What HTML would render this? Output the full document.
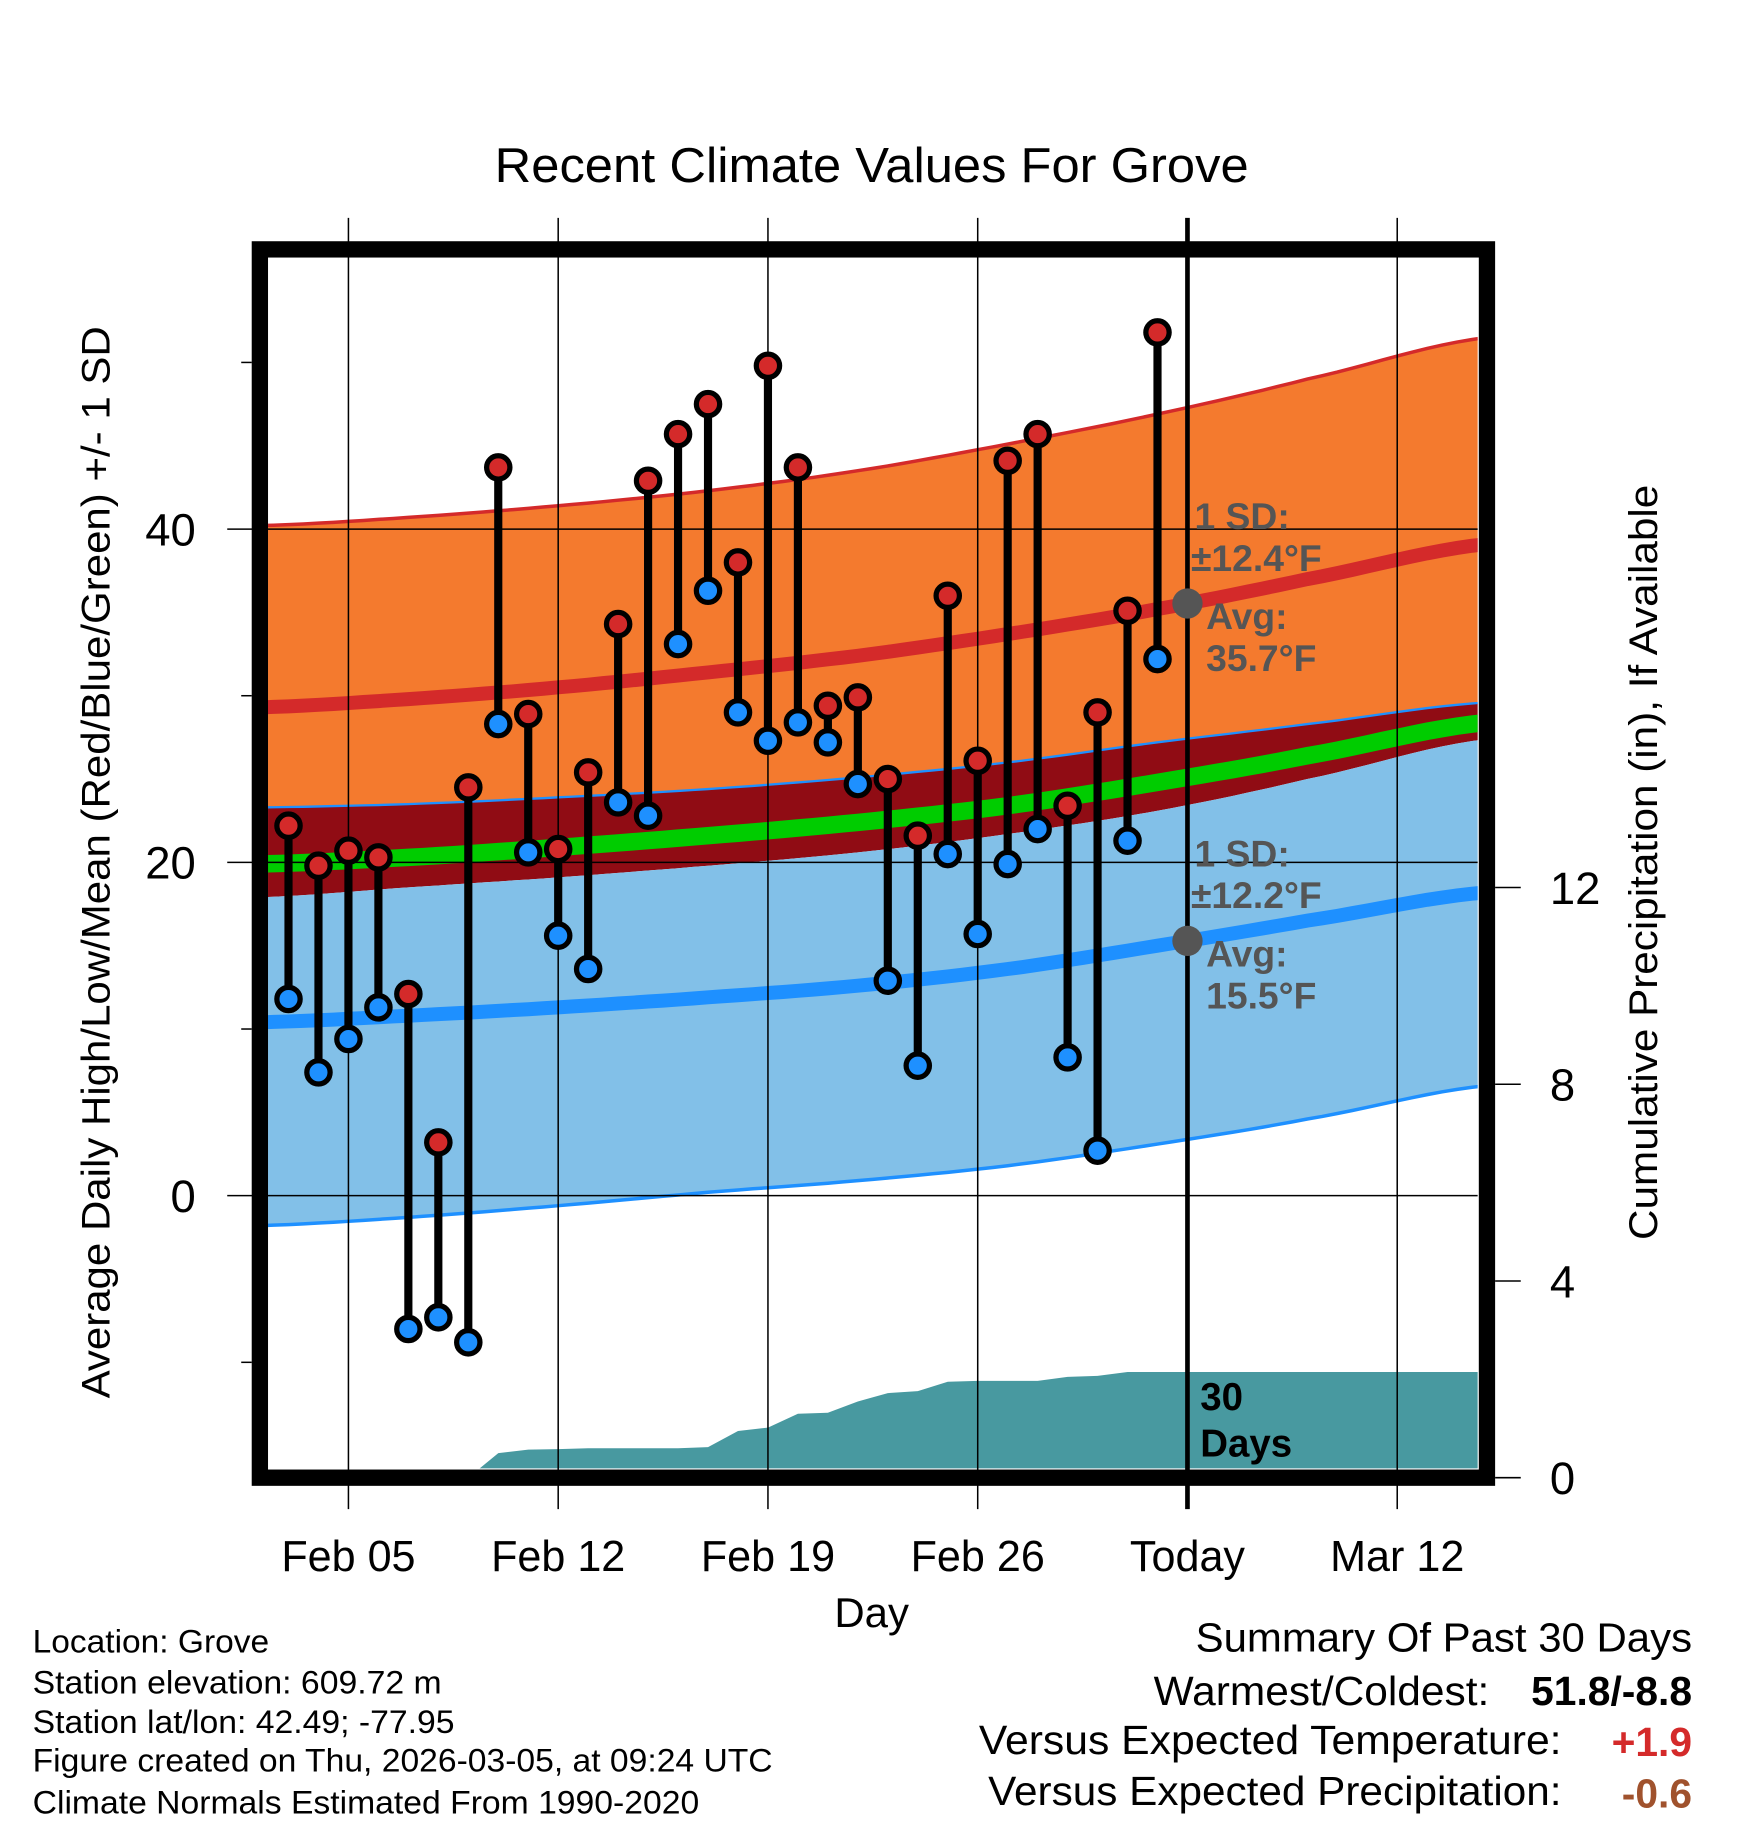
<!DOCTYPE html>
<html><head><meta charset="utf-8"><style>
html,body{margin:0;padding:0;background:#fff}
svg{display:block}
text{font-family:"Liberation Sans",Arial,sans-serif}
</style></head><body>
<svg id="chart" width="1748" height="1828" viewBox="0 0 1500 1568.6" preserveAspectRatio="none" xmlns="http://www.w3.org/2000/svg">
<defs><clipPath id="plotclip"><rect x="230" y="221" width="1038" height="1039"/></clipPath></defs>
<g id="plot" clip-path="url(#plotclip)"></g>
<g id="grid"></g>
<g id="marks"></g>
<rect x="223" y="214" width="1053" height="1054" fill="none" stroke="#000" stroke-width="14"/>
<text x="748" y="156" font-size="42" text-anchor="middle" textLength="647" lengthAdjust="spacingAndGlyphs">Recent Climate Values For Grove</text>
<text transform="translate(94,740) rotate(-90)" font-size="34" text-anchor="middle" textLength="920" lengthAdjust="spacingAndGlyphs">Average Daily High/Low/Mean (Red/Blue/Green) +/- 1 SD</text>
<text transform="translate(1422,740) rotate(-90)" font-size="34" text-anchor="middle" textLength="648" lengthAdjust="spacingAndGlyphs">Cumulative Precipitation (in), If Available</text>
<text x="748" y="1396" font-size="36" text-anchor="middle">Day</text>
<g font-size="28">
<text x="28" y="1418" textLength="203" lengthAdjust="spacingAndGlyphs">Location: Grove</text>
<text x="28" y="1453" textLength="351" lengthAdjust="spacingAndGlyphs">Station elevation: 609.72 m</text>
<text x="28" y="1487" textLength="362" lengthAdjust="spacingAndGlyphs">Station lat/lon: 42.49; -77.95</text>
<text x="28" y="1520" textLength="635" lengthAdjust="spacingAndGlyphs">Figure created on Thu, 2026-03-05, at 09:24 UTC</text>
<text x="28" y="1556" textLength="572" lengthAdjust="spacingAndGlyphs">Climate Normals Estimated From 1990-2020</text>
</g>
<g font-size="35">
<text x="1026" y="1417" textLength="426" lengthAdjust="spacingAndGlyphs">Summary Of Past 30 Days</text>
<text x="990" y="1463" textLength="288" lengthAdjust="spacingAndGlyphs">Warmest/Coldest:</text>
<text x="1452" y="1463" text-anchor="end" font-weight="bold">51.8/-8.8</text>
<text x="840" y="1505" textLength="500" lengthAdjust="spacingAndGlyphs">Versus Expected Temperature:</text>
<text x="1452" y="1507" text-anchor="end" font-weight="bold" fill="#D42A2A">+1.9</text>
<text x="848" y="1549" textLength="492" lengthAdjust="spacingAndGlyphs">Versus Expected Precipitation:</text>
<text x="1452" y="1551" text-anchor="end" font-weight="bold" fill="#A0522D">-0.6</text>
</g>
</svg>
<script>
const days=["Feb 03","Feb 04","Feb 05","Feb 06","Feb 07","Feb 08","Feb 09","Feb 10","Feb 11","Feb 12","Feb 13","Feb 14","Feb 15","Feb 16","Feb 17","Feb 18","Feb 19","Feb 20","Feb 21","Feb 22","Feb 23","Feb 24","Feb 25","Feb 26","Feb 27","Feb 28","Mar 01","Mar 02","Mar 03","Mar 04"];
const highs=[22.2,19.8,20.7,20.3,12.1,3.2,24.5,43.7,28.9,20.8,25.4,34.3,42.9,45.7,47.5,38.0,49.8,43.7,29.4,29.9,25.0,21.6,36.0,26.1,44.1,45.7,23.4,29.0,35.1,51.8];
const lows=[11.8,7.4,9.4,11.3,-8.0,-7.3,-8.8,28.3,20.6,15.6,13.6,23.6,22.8,33.1,36.3,29.0,27.3,28.4,27.2,24.7,12.9,7.8,20.5,15.7,19.9,22.0,8.3,2.7,21.3,32.2];
const precip=[0,0,0,0,0,0,0,0.5,0.57,0.58,0.6,0.6,0.6,0.6,0.62,0.95,1.02,1.3,1.32,1.55,1.72,1.76,1.95,1.97,1.97,1.97,2.05,2.07,2.15,2.15];
const normDays=[-3,2,7,12,17,22,27,32,38];
const normHighUpper=[40.2,40.7,41.4,42.3,43.5,45.1,46.9,49.0,51.5];
const normHighMean=[29.3,29.8,30.5,31.4,32.4,33.7,35.2,37.0,39.1];
const normLowUpper=[23.3,23.5,23.9,24.4,25.1,26.0,27.2,28.3,29.6];
const normMeanBandLow=[17.9,18.5,19.1,19.8,20.6,21.7,23.1,25.0,27.4];
const normMeanLine=[19.9,20.3,20.9,21.6,22.4,23.4,24.8,26.4,28.4];
const normLowMean=[10.4,10.8,11.3,11.9,12.6,13.6,15.0,16.5,18.2];
const normLowLower=[-1.8,-1.3,-0.6,0.2,0.9,1.8,3.1,4.6,6.6];
const yTicks=[0,20,40];
const yMinor=[-10,10,30,50];
const pTicks=[0,4,8,12];
const xTickDays=[0,7,14,21,28,35];
const xTickLabels=["Feb 05","Feb 12","Feb 19","Feb 26","Today","Mar 12"];
const firstDay=-2;
const todayDay=28;

const NS="http://www.w3.org/2000/svg";
const X=d=>299+d*25.714;
const Y=v=>1026-v*14.3;
const P=p=>1268-p*42.2;
function mk(tag,attrs,parent){const e=document.createElementNS(NS,tag);for(const k in attrs)e.setAttribute(k,attrs[k]);parent.appendChild(e);return e;}
const plot=document.getElementById('plot'),grid=document.getElementById('grid'),marks=document.getElementById('marks'),svg=document.getElementById('chart');
// smooth sampling via Catmull-Rom interpolation of normal arrays
function interp(arr,d){
  let i=0;while(i<normDays.length-2&&d>normDays[i+1])i++;
  const t=(d-normDays[i])/(normDays[i+1]-normDays[i]);
  const p0=arr[Math.max(i-1,0)],p1=arr[i],p2=arr[i+1],p3=arr[Math.min(i+2,arr.length-1)];
  return 0.5*((2*p1)+(-p0+p2)*t+(2*p0-5*p1+4*p2-p3)*t*t+(-p0+3*p1-3*p2+p3)*t*t*t);
}
const sampleD=[];for(let d=normDays[0];d<=normDays[normDays.length-1];d+=0.5)sampleD.push(d);
function pts(arr){return sampleD.map(d=>X(d).toFixed(1)+','+Y(interp(arr,d)).toFixed(1));}
function band(up,lo,fill,name){
  const p=mk('polygon',{points:pts(up).concat(pts(lo).reverse()).join(' '),fill:fill},plot);
  
  
}
function line(arr,color,w,name){
  const p=mk('polyline',{points:pts(arr).join(' '),fill:'none',stroke:color,'stroke-width':w},plot);
  
  
}
band(normHighUpper,normLowUpper,'#F47A2E','high-sd-band');
line(normHighUpper,'#D42A2A',3,'high-upper-sd-line');
band(normLowUpper,normMeanBandLow,'#900C14','mean-band');
band(normMeanBandLow,normLowLower,'#82C0E8','low-sd-band');
line(normLowUpper,'#1E90FF',2,'low-upper-sd-line');
line(normLowLower,'#1E90FF',3,'low-lower-sd-line');
line(normMeanLine,'#00CC00',15,'normal-mean-line');
line(normHighMean,'#D42A2A',12,'normal-high-line');
line(normLowMean,'#1E90FF',12,'normal-low-line');
let pp=[X(firstDay)+','+P(0)];
precip.forEach((v,i)=>pp.push(X(firstDay+i).toFixed(1)+','+P(v).toFixed(1)));
pp.push('1270,'+P(precip[precip.length-1]).toFixed(1));
pp.push('1270,'+P(0));
const pa=mk('polygon',{points:pp.join(' '),fill:'#4899A0'},plot);


yTicks.forEach(v=>{
  const l=mk('line',{x1:195,x2:1268,y1:Y(v),y2:Y(v),stroke:'#000','stroke-width':1.3},grid);
  
  
  const t=mk('text',{x:168,y:Y(v)+14,'font-size':39,'text-anchor':'end'},grid);t.textContent=v;
  
  
});
yMinor.forEach(v=>{
  const l=mk('line',{x1:207,x2:216,y1:Y(v),y2:Y(v),stroke:'#000','stroke-width':1.3},grid);
  
  
});
pTicks.forEach(v=>{
  const l=mk('line',{x1:1283,x2:1305,y1:P(v),y2:P(v),stroke:'#000','stroke-width':1.3},grid);
  
  
  const t=mk('text',{x:1330,y:P(v)+14,'font-size':39},grid);t.textContent=v;
  
  
});
xTickDays.forEach((d,i)=>{
  const isToday=d===todayDay;
  const l=mk('line',{x1:X(d),x2:X(d),y1:187,y2:1295,stroke:'#000','stroke-width':isToday?4:1.3},grid);
  
  
  const t=mk('text',{x:X(d),y:1348,'font-size':37,'text-anchor':'middle'},grid);t.textContent=xTickLabels[i];
  
  
});
highs.forEach((h,i)=>{
  const x=X(firstDay+i);
  const s=mk('line',{x1:x,x2:x,y1:Y(h),y2:Y(lows[i]),stroke:'#000','stroke-width':7},marks);
  
  
});
highs.forEach((h,i)=>{
  const x=X(firstDay+i);
  const a=mk('circle',{cx:x,cy:Y(h),r:10,fill:'#D42A2A',stroke:'#000','stroke-width':4.5},marks);
  
  
  const b=mk('circle',{cx:x,cy:Y(lows[i]),r:10,fill:'#1E90FF',stroke:'#000','stroke-width':4.5},marks);
  
  
});
const tx=X(todayDay);
const ann=mk('g',{fill:'#555','font-size':32,'font-weight':'bold'},svg);


const hm=interp(normHighMean,todayDay), lm=interp(normLowMean,todayDay);
[[hm,'12.4','35.7'],[lm,'12.2','15.5']].forEach(([v,sd,avg])=>{
  const cy=Y(v);
  const c=mk('circle',{cx:tx,cy:cy,r:13,fill:'#555'},ann);
  
  
  const lines=[[1025,cy-64,'1 SD:'],[1022,cy-28,'\u00b1'+sd+'\u00b0F'],[1035,cy+22,'Avg:'],[1035,cy+58,avg+'\u00b0F']];
  lines.forEach(([x,y,s])=>{const t=mk('text',{x:x,y:y},ann);t.textContent=s;
    
    });
});
const d1=mk('text',{x:1030,y:1210,'font-size':33,'font-weight':'bold'},svg);d1.textContent='30';


const d2=mk('text',{x:1030,y:1250,'font-size':33,'font-weight':'bold'},svg);d2.textContent='Days';


</script>
</body></html>
